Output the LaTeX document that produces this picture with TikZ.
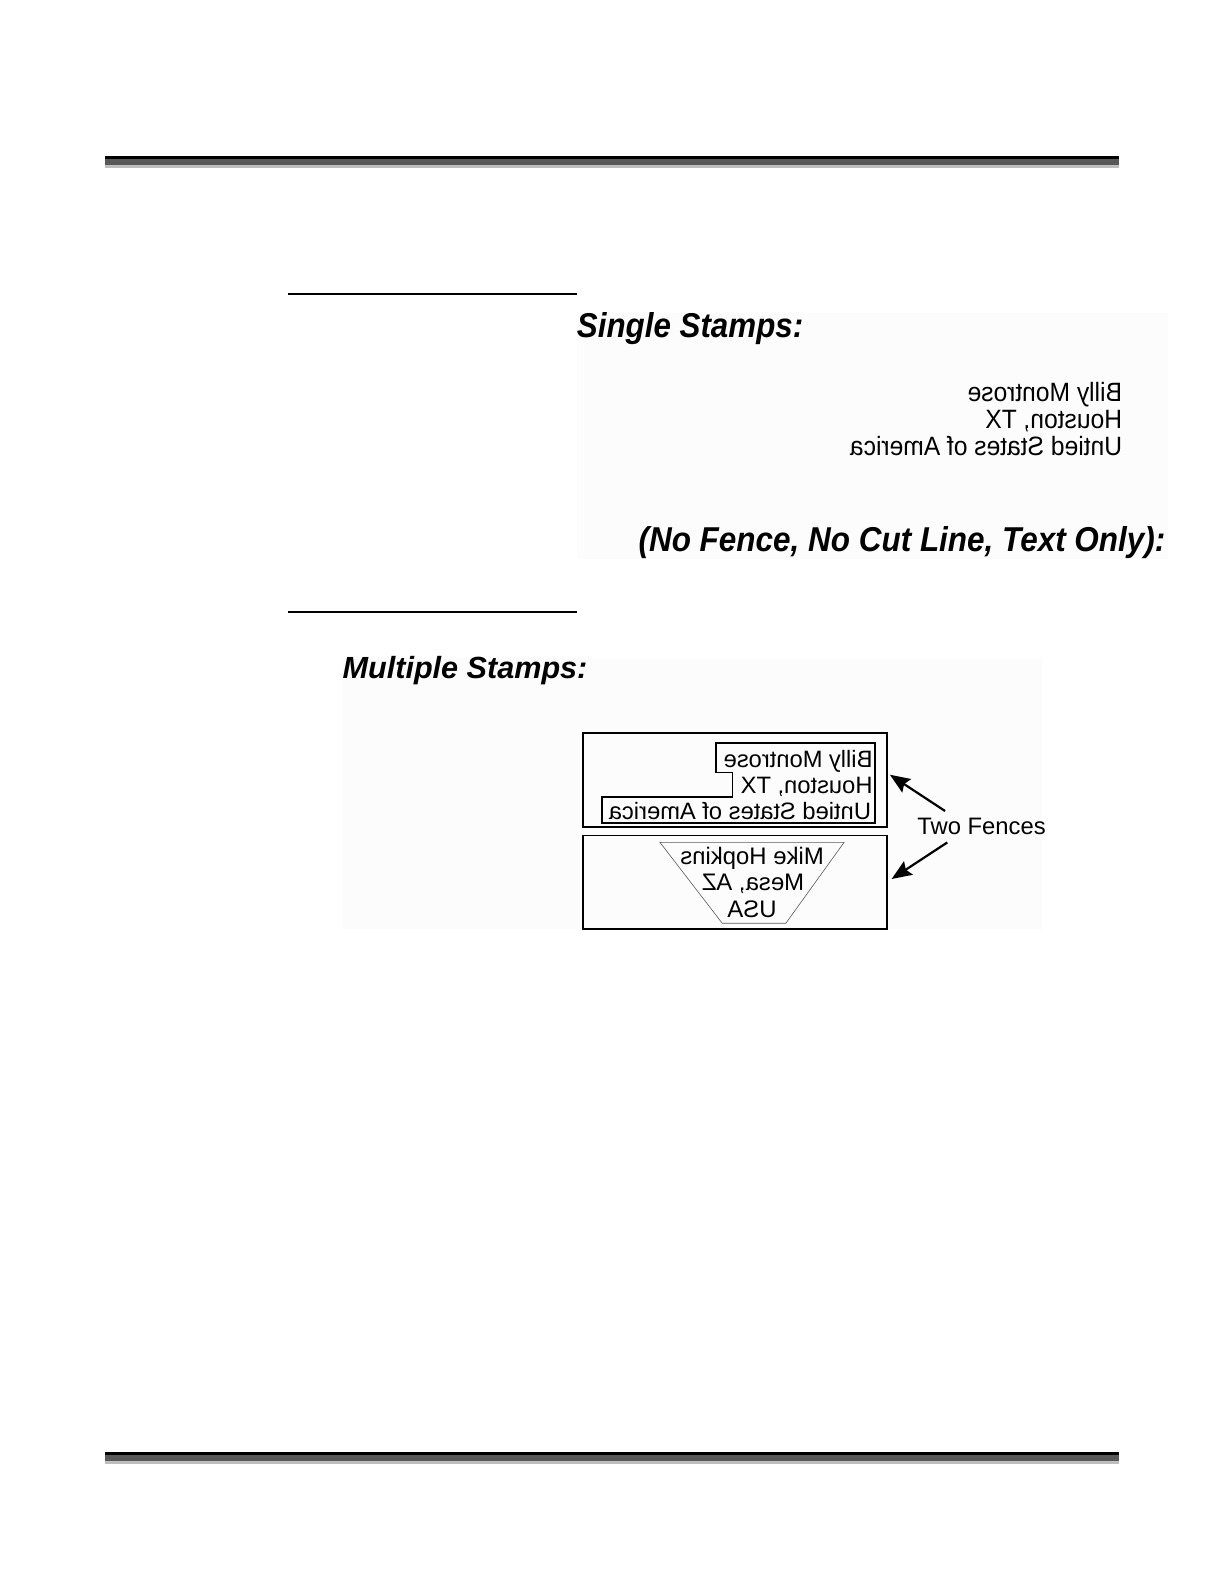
\documentclass[tikz,border=0pt]{standalone}
\usepackage{fontspec}
\setmainfont{Liberation Sans}
\usetikzlibrary{arrows.meta}
\tikzset{
  x=1.0101pt,y=-1.0101pt,
  fence/.style={draw=black,line width=1.7pt},
  thinfence/.style={draw=black!65,line width=0.6pt},
  rule/.style={draw=black,line width=2pt},
  head/.style={font=\fontsize{34.5}{38}\selectfont\bfseries\itshape,anchor=base west,inner sep=0pt},
  headm/.style={font=\fontsize{30.6}{36}\selectfont\bfseries\itshape,anchor=base west,inner sep=0pt},
  single/.style={font=\fontsize{26.5}{27}\selectfont,anchor=base east,inner sep=0pt},
  mirror/.style={font=\fontsize{23.7}{27}\selectfont,anchor=base east,inner sep=0pt},
  mirrorc/.style={font=\fontsize{23.9}{27}\selectfont,anchor=base,inner sep=0pt},
  lab/.style={font=\fontsize{23.8}{27}\selectfont,anchor=base west,inner sep=0pt},
  pointer/.style={draw=black,line width=2.2pt,-{Stealth[length=20pt,width=16pt,inset=3pt]}},
}
\newcommand{\mir}[1]{\reflectbox{#1}}
\newcommand{\mirn}[1]{\scalebox{-.928}[1]{#1}}
\newcommand{\nar}[1]{\scalebox{.908}[1]{#1}}
\newcommand{\narl}[1]{\scalebox{.912}[1]{#1}}
\begin{document}
\begin{tikzpicture}
\useasboundingbox (0,0) rectangle (1211.76,1568.16);
\fill[white] (0,0) rectangle (1211.76,1568.16);
% page bars
\foreach \y in {154.4,1437.5}{
  \fill[black] (104,\y) rectangle (1108,\y+3);
  \fill[black!65] (104,\y+3) rectangle (1108,\y+9);
  \fill[black!25] (104,\y+9) rectangle (1108,\y+12);
}
% faint image backgrounds
\fill[black!1] (571,310) rectangle (1156,553);
\fill[black!1] (340,651) rectangle (1032,920);
% section rules
\coordinate (r1a) at (285,291); \coordinate (r1b) at (571,291);
\coordinate (r2a) at (285,605.6); \coordinate (r2b) at (571,605.6);
\draw[rule] (r1a) -- (r1b);
\draw[rule] (r2a) -- (r2b);
% headings
\node[head] (h1) at (571,334) {\nar{Single Stamps:}};
\node[head] (h2) at (632,546) {\narl{(No Fence, No Cut Line, Text Only):}};
\node[headm] (h3) at (339,672) {Multiple Stamps:};
% single stamp text
\node[single] (s1) at (1111,397) {\mirn{Billy Montrose}};
\node[single] (s2) at (1111,424) {\mirn{Houston, TX}};
\node[single] (s3) at (1111,451) {\mirn{Untied States of America}};
% fences
\draw[fence] (577,726) rectangle (878,819);
\draw[fence] (577,827) rectangle (878,920);
\draw[fence] (866.3,735.9) -- (708.9,735.9) -- (708.9,764.9) -- (725.3,764.9) -- (725.3,788.7) -- (595.7,788.7) -- (595.7,815) -- (866.3,815) -- cycle;
\draw[thinfence] (653.4,834) -- (835.6,834) -- (778,914) -- (715,914) -- cycle;
% multiple stamp text
\node[mirror] (m1) at (864,760) {\mir{Billy Montrose}};
\node[mirror] (m2) at (864,786) {\mir{Houston, TX}};
\node[mirror] (m3) at (862.5,811) {\mir{Untied States of America}};
\node[mirrorc] (m4) at (744.5,856) {\mir{Mike Hopkins}};
\node[mirrorc] (m5) at (745.5,882) {\mir{Mesa, AZ}};
\node[mirrorc] (m6) at (744.5,908) {\mir{USA}};
% label and arrows
\node[lab] (two) at (908,826) {Two Fences};
\coordinate (t1) at (935.6,802.9); \coordinate (t2) at (881,767);
\coordinate (b1) at (937.8,834); \coordinate (b2) at (882.7,870.2);
\draw[pointer] (t1) -- (t2);
\draw[pointer] (b1) -- (b2);
\end{tikzpicture}
\end{document}
